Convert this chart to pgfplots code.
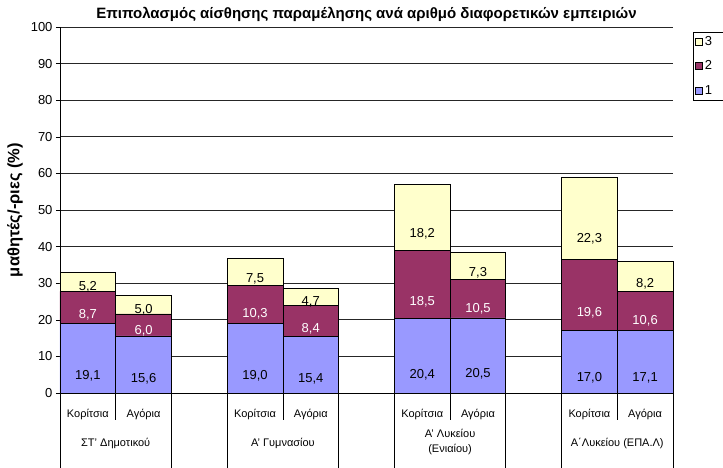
\documentclass[border=0pt]{standalone}
\usepackage{pgfplots}
\pgfplotsset{compat=1.18}
\usepackage{pgfplotstable}
\usepackage{fontspec}
\setmainfont{Liberation Sans}
\definecolor{c1}{HTML}{9999FF}
\definecolor{c2}{HTML}{993366}
\definecolor{c3}{HTML}{FFFFCC}
\pgfplotstableread{
x  s1   s2   s3
0  19.1 8.7  5.2
1  15.6 6.0  5.0
3  19.0 10.3 7.5
4  15.4 8.4  4.7
6  20.4 18.5 18.2
7  20.5 10.5 7.3
9  17.0 19.6 22.3
10 17.1 10.6 8.2
}\datatab
\begin{document}
\begin{tikzpicture}
\begin{axis}[
  scale only axis, width=613pt, height=366pt,
  xmin=-0.5, xmax=10.5, ymin=0, ymax=100,
  ytick={0,10,...,100},
  xtick={0,1,3,4,6,7,9,10},
  xticklabels={Κορίτσια,Αγόρια,Κορίτσια,Αγόρια,Κορίτσια,Αγόρια,Κορίτσια,Αγόρια},
  xtick style={draw=none},
  ytick style={black, line width=0.6pt},
  tick align=outside, major tick length=4pt,
  axis x line*=bottom, axis y line*=left,
  axis line style={black, line width=0.7pt},
  ymajorgrids, grid style={black!85, line width=0.7pt},
  /pgf/number format/assume math mode=true,
  yticklabel style={font=\fontsize{13}{15}\selectfont},
  xticklabel style={font=\fontsize{11}{13}\selectfont, anchor=base, yshift=-20pt},
  ybar stacked, bar width=1,
  clip=false,
  point meta=explicit, point meta min=0, point meta max=100,
  nodes near coords={\pgfmathprintnumber[fixed,fixed zerofill,precision=1,use comma]{\pgfplotspointmeta}},
  every node near coord/.append style={anchor=center, yshift=-0.0915*\pgfplotspointmetatransformed, font=\fontsize{13}{15}\selectfont},
  title={Επιπολασμός αίσθησης παραμέλησης ανά αριθμό διαφορετικών εμπειριών},
  title style={font=\bfseries\fontsize{15}{17}\selectfont, at={(0.5,1)}, anchor=base, yshift=3pt},
  ylabel={μαθητές/-ριες (\%)},
  ylabel style={font=\bfseries\fontsize{16.5}{18}\selectfont, at={(rel axis cs:-0.0734,0.5)}, anchor=center},
  legend entries={\makebox[25pt][l]{1},\makebox[25pt][l]{2},\makebox[25pt][l]{3}}, reverse legend,
  legend image code/.code={\draw[#1, draw=black, line width=0.6pt] (0pt,-3.5pt) rectangle (7pt,3.5pt);},
  legend style={at={(rel axis cs:1,1)}, anchor=north west, xshift=20pt, yshift=-5pt,
    draw=black, line width=0.6pt, font=\fontsize{13}{15}\selectfont, row sep=10pt, inner sep=2pt},
  legend cell align=left,
]
\addplot[fill=c1, draw=black, line width=0.8pt, every node near coord/.append style={text=black}]
  table[x=x,y=s1,meta=s1]{\datatab};
\addplot[fill=c2, draw=black, line width=0.8pt, every node near coord/.append style={text=white}]
  table[x=x,y=s2,meta=s2]{\datatab};
\addplot[fill=c3, draw=black, line width=0.8pt, every node near coord/.append style={text=black}]
  table[x=x,y=s3,meta=s3]{\datatab};
% category separators
\pgfplotsinvokeforeach{-0.5,1.5,2.5,4.5,5.5,7.5,8.5,10.5}{
  \draw[black, line width=0.7pt] (axis cs:#1,0) -- ++(0pt,-80pt);
}
\pgfplotsinvokeforeach{0.5,3.5,6.5,9.5}{
  \draw[black, line width=0.7pt] (axis cs:#1,0) -- ++(0pt,-27pt);
}
\node[font=\fontsize{11}{13}\selectfont, anchor=base] at ([yshift=-53pt]axis cs:0.5,0) {ΣΤ' Δημοτικού};
\node[font=\fontsize{11}{13}\selectfont, anchor=base] at ([yshift=-53pt]axis cs:3.5,0) {Α' Γυμνασίου};
\node[font=\fontsize{11}{15}\selectfont, anchor=center, align=center] at ([yshift=-49pt]axis cs:6.5,0) {Α' Λυκείου\\(Ενιαίου)};
\node[font=\fontsize{11}{13}\selectfont, anchor=base] at ([yshift=-53pt]axis cs:9.5,0) {Α΄Λυκείου (ΕΠΑ.Λ)};
\end{axis}
\pgfresetboundingbox
\path[use as bounding box] (-60pt,-74pt) rectangle (663pt,393pt);
\end{tikzpicture}
\end{document}
